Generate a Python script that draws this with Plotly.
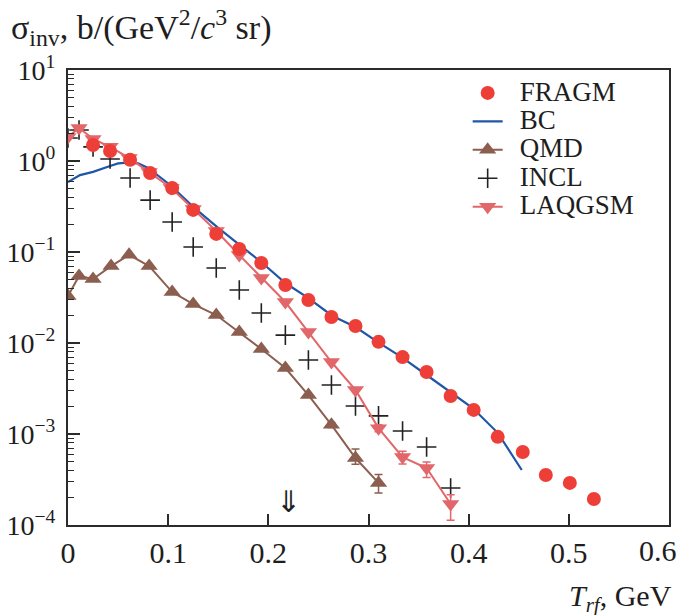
import plotly.graph_objects as go

# ---------------- data ----------------
T_fragm = [0.025, 0.042, 0.062, 0.082, 0.104, 0.125, 0.148, 0.171, 0.193, 0.217, 0.240, 0.263,
           0.287, 0.310, 0.334, 0.358, 0.382, 0.405, 0.429, 0.454, 0.477, 0.501, 0.525]
v_fragm = [1.50, 1.29, 1.03, 0.738, 0.505, 0.290, 0.158, 0.108, 0.0757, 0.0434, 0.0297, 0.0193,
           0.0154, 0.0103, 0.0070, 0.0048, 0.00262, 0.00184, 0.00093, 0.000634, 0.000354, 0.00029, 0.000193]
e_fragm = [0]*22 + [0.00002]

T_bc = [0.0, 0.012, 0.025, 0.035, 0.042, 0.050, 0.060, 0.070, 0.080, 0.102, 0.125, 0.149, 0.172,
        0.194, 0.217, 0.240, 0.264, 0.287, 0.309, 0.333, 0.358, 0.381, 0.404, 0.429, 0.453]
v_bc = [0.588, 0.70, 0.76, 0.82, 0.88, 0.94, 0.96, 0.94, 0.84, 0.545, 0.313, 0.188, 0.119,
        0.0757, 0.0456, 0.0312, 0.0198, 0.015, 0.0103, 0.0070, 0.00445, 0.0029, 0.00193, 0.00103, 0.000402]

T_qmd = [0.0, 0.011, 0.025, 0.043, 0.061, 0.081, 0.104, 0.125, 0.148, 0.171, 0.193, 0.217,
         0.240, 0.263, 0.287, 0.310]
v_qmd = [0.0328, 0.0545, 0.0505, 0.070, 0.093, 0.070, 0.0363, 0.0268, 0.0203, 0.0132, 0.0086,
         0.0053, 0.00268, 0.00126, 0.000545, 0.00029]
eu_qmd = [0]*13 + [0.00008, 0.00014, 0.00007]
ed_qmd = [0]*13 + [0.00008, 0.00008, 0.000065]

T_incl = [0.0, 0.011, 0.025, 0.042, 0.062, 0.082, 0.104, 0.125, 0.148, 0.171, 0.193, 0.217,
          0.240, 0.263, 0.287, 0.310, 0.334, 0.358, 0.382]
v_incl = [1.79, 2.19, 1.43, 1.05, 0.65, 0.372, 0.214, 0.1135, 0.0667, 0.0382, 0.0214, 0.0122,
          0.0065, 0.00345, 0.00203, 0.00158, 0.00108, 0.00072, 0.000255]

T_laq = [0.0, 0.011, 0.025, 0.042, 0.061, 0.081, 0.103, 0.125, 0.148, 0.171, 0.193, 0.217,
         0.240, 0.263, 0.287, 0.310, 0.334, 0.358, 0.382]
v_laq = [1.84, 2.31, 1.75, 1.43, 1.08, 0.757, 0.505, 0.297, 0.170, 0.0927, 0.0518, 0.0282,
         0.0132, 0.00618, 0.00305, 0.00116, 0.000558, 0.000423, 0.00017]
eu_laq = [0]*15 + [0.0001, 0.00009, 0.00007, 0.000045]
ed_laq = [0]*15 + [0.0001, 0.00009, 0.00009, 0.000057]

x_ticks = [0, 0.1, 0.2, 0.3, 0.4, 0.5, 0.6]
x_ticktext = ["0", "0.1", "0.2", "0.3", "0.4", "0.5", "0.6"]
y_exps = [1, 0, -1, -2, -3, -4]
arrow_T = 0.22

# ---------------- styles ----------------
FONT = "Liberation Serif"
C_FRAGM = "#ee3e38"
C_BC = "#1f56a8"
C_QMD = "#8c5e4f"
C_LAQ = "#e2676a"
AX = "#2b2b2b"
TXT = "#1e1e1e"

def lname(s):
    return '<span style="font-size:27px">&nbsp;\u2009' + s + '</span>'

fig = go.Figure()

fig.add_trace(go.Scatter(x=T_bc, y=v_bc, mode="lines", name=lname("BC"),
                         line=dict(color=C_BC, width=2.2), legendrank=2))
fig.add_trace(go.Scatter(x=T_qmd, y=v_qmd, mode="lines+markers", name=lname("QMD"),
                         line=dict(color=C_QMD, width=2),
                         marker=dict(symbol="triangle-up", size=15, color=C_QMD),
                         error_y=dict(type="data", symmetric=False, array=eu_qmd, arrayminus=ed_qmd,
                                      color=C_QMD, thickness=1.5, width=4),
                         legendrank=3))
fig.add_trace(go.Scatter(x=T_incl, y=v_incl, mode="markers", name=lname("INCL"),
                         marker=dict(symbol="cross-thin", size=14, color="#222",
                                     line=dict(color="#222", width=1.6)),
                         legendrank=4))
fig.add_trace(go.Scatter(x=T_laq, y=v_laq, mode="lines+markers", name=lname("LAQGSM"),
                         line=dict(color=C_LAQ, width=2),
                         marker=dict(symbol="triangle-down", size=15, color=C_LAQ),
                         error_y=dict(type="data", symmetric=False, array=eu_laq, arrayminus=ed_laq,
                                      color=C_LAQ, thickness=1.5, width=4),
                         legendrank=5))
fig.add_trace(go.Scatter(x=T_fragm, y=v_fragm, mode="markers", name=lname("FRAGM"),
                         marker=dict(symbol="circle", size=14, color=C_FRAGM),
                         error_y=dict(type="data", array=e_fragm, color=C_FRAGM, thickness=1.5, width=3),
                         legendrank=1))

minor_vals = [k * 10.0**e for e in range(-4, 1) for k in range(2, 10)]

fig.update_layout(
    width=677, height=607,
    margin=dict(l=60, r=16, t=62, b=90, autoexpand=False),
    paper_bgcolor="white", plot_bgcolor="white",
    font=dict(family=FONT, size=27, color=TXT),
    showlegend=True,
    legend=dict(x=0.665, y=0.992, xanchor="left", yanchor="top",
                font=dict(family=FONT, size=19.6, color=TXT),
                bgcolor="rgba(0,0,0,0)", borderwidth=0, traceorder="normal"),
    xaxis=dict(range=[0, 0.6], tickvals=x_ticks[:-1], ticktext=x_ticktext[:-1], automargin=False,
               ticks="inside", ticklen=11, tickwidth=1.5, tickcolor=AX,
               showline=True, linecolor=AX, linewidth=2, mirror=True,
               showgrid=False, zeroline=False,
               tickfont=dict(family=FONT, size=30, color=TXT)),
    yaxis=dict(type="log", range=[-4, 1], automargin=False,
               ticklabeloverflow="allow",
               tickvals=[10.0**e for e in y_exps],
               ticktext=["10<sup>%s</sup>" % (str(e).replace("-", "\u2212")) for e in y_exps],
               ticks="inside", ticklen=12, tickwidth=1.5, tickcolor=AX,
               minor=dict(tickvals=minor_vals, ticks="inside", ticklen=6, tickwidth=1.2, tickcolor=AX),
               showline=True, linecolor=AX, linewidth=2, mirror=True,
               showgrid=False, zeroline=False,
               ticklabelstandoff=5,
               tickfont=dict(family=FONT, size=28, color=TXT)),
)

# last x tick label, kept inside the visible page
fig.add_annotation(xref="x", yref="paper", x=x_ticks[-1], y=-0.057, xanchor="right", yanchor="middle",
                   text=x_ticktext[-1], showarrow=False, xshift=10,
                   font=dict(family=FONT, size=30, color=TXT))
fig.add_annotation(xref="paper", yref="paper", x=-0.098, y=1.0926, xanchor="left", yanchor="middle",
                   text="σ<sub>inv</sub>, b/(GeV<sup>2</sup>/<i>c</i><sup>3</sup> sr)",
                   showarrow=False, font=dict(family=FONT, size=34, color=TXT))
fig.add_annotation(xref="paper", yref="paper", x=0.8303, y=-0.161, xanchor="left", yanchor="middle",
                   text="<i>T<sub>rf</sub></i>, GeV",
                   showarrow=False, font=dict(family=FONT, size=30, color=TXT))
fig.add_annotation(xref="x", yref="y", x=arrow_T, y=-3.74, text="⇓",
                   showarrow=False, font=dict(family="DejaVu Sans", size=30, color=TXT))

fig.write_html("out.html")
